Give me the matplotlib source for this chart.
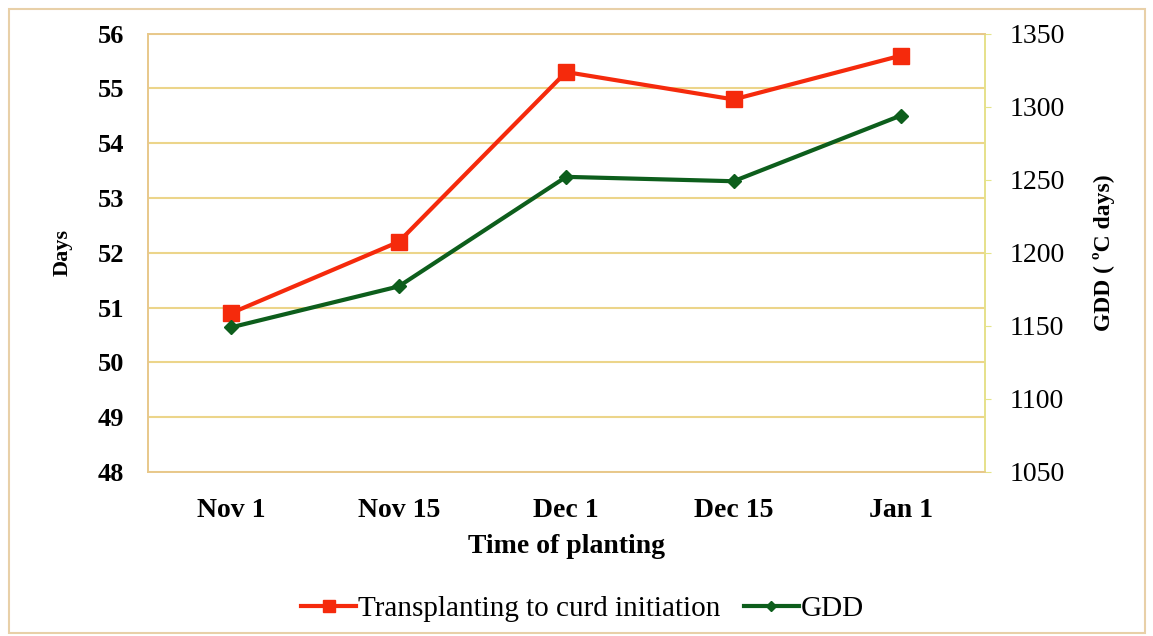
import matplotlib.pyplot as plt
from matplotlib.patches import Rectangle

plt.rcParams['font.family'] = ['Liberation Serif', 'DejaVu Serif']

dates = ['Nov 1', 'Nov 15', 'Dec 1', 'Dec 15', 'Jan 1']
days = [50.9, 52.2, 55.3, 54.8, 55.6]
gdd = [1149, 1177, 1252, 1249, 1294]
left_ticks = [48, 49, 50, 51, 52, 53, 54, 55, 56]
right_ticks = [1050, 1100, 1150, 1200, 1250, 1300, 1350]

fig = plt.figure(figsize=(11.53, 6.36), dpi=100)
ax = fig.add_axes([0.128, 0.258, 0.726, 0.689])
ax2 = ax.twinx()

x = list(range(len(dates)))
ax.plot(x, days, color='#f52a0c', marker='s', markersize=11, linewidth=3,
        label='Transplanting to curd initiation', zorder=3)
ax2.plot(x, gdd, color='#0d5e1c', marker='D', markersize=7, linewidth=3,
         label='GDD', zorder=3)

ax.set_xlim(-0.5, 4.5)
ax.set_ylim(48, 56)
ax2.set_ylim(1050, 1350)
ax.set_yticks(left_ticks)
ax2.set_yticks(right_ticks)
ax.set_xticks(x)
ax.set_xticklabels(dates, fontsize=20, fontweight='bold')
for lab in ax.get_yticklabels():
    lab.set_fontsize(19)
    lab.set_fontweight('bold')
for lab in ax2.get_yticklabels():
    lab.set_fontsize(20)

ax.grid(axis='y', color='#ecd58a', linewidth=1.5)
ax.set_axisbelow(True)
for a in (ax, ax2):
    for s in a.spines.values():
        s.set_color('#e8c88a')
        s.set_linewidth(1.2)
ax2.spines['right'].set_color('#e5e58a')
ax.tick_params(axis='x', length=0, pad=19)
ax.tick_params(axis='y', length=0, pad=17)
ax2.tick_params(axis='y', length=4, color='#e5e58a', pad=14)

ax.set_xlabel('Time of planting', fontsize=20, fontweight='bold', labelpad=8)
ax.set_ylabel('Days', fontsize=16, fontweight='bold', labelpad=18)
ax2.set_ylabel('GDD ( ºC days)', fontsize=17, fontweight='bold', labelpad=20)

h1, l1 = ax.get_legend_handles_labels()
h2, l2 = ax2.get_legend_handles_labels()
fig.legend(h1 + h2, l1 + l2, loc='center', bbox_to_anchor=(0.505, 0.043),
           ncol=2, frameon=False, fontsize=21, handlelength=1.9,
           handletextpad=0.05, columnspacing=0.8, markerscale=0.8)

fig.patches.append(Rectangle((0.008, 0.005), 0.985, 0.981, transform=fig.transFigure,
                             fill=False, edgecolor='#e8d0a8', linewidth=1.5))

fig.savefig('out.png', dpi=100)
